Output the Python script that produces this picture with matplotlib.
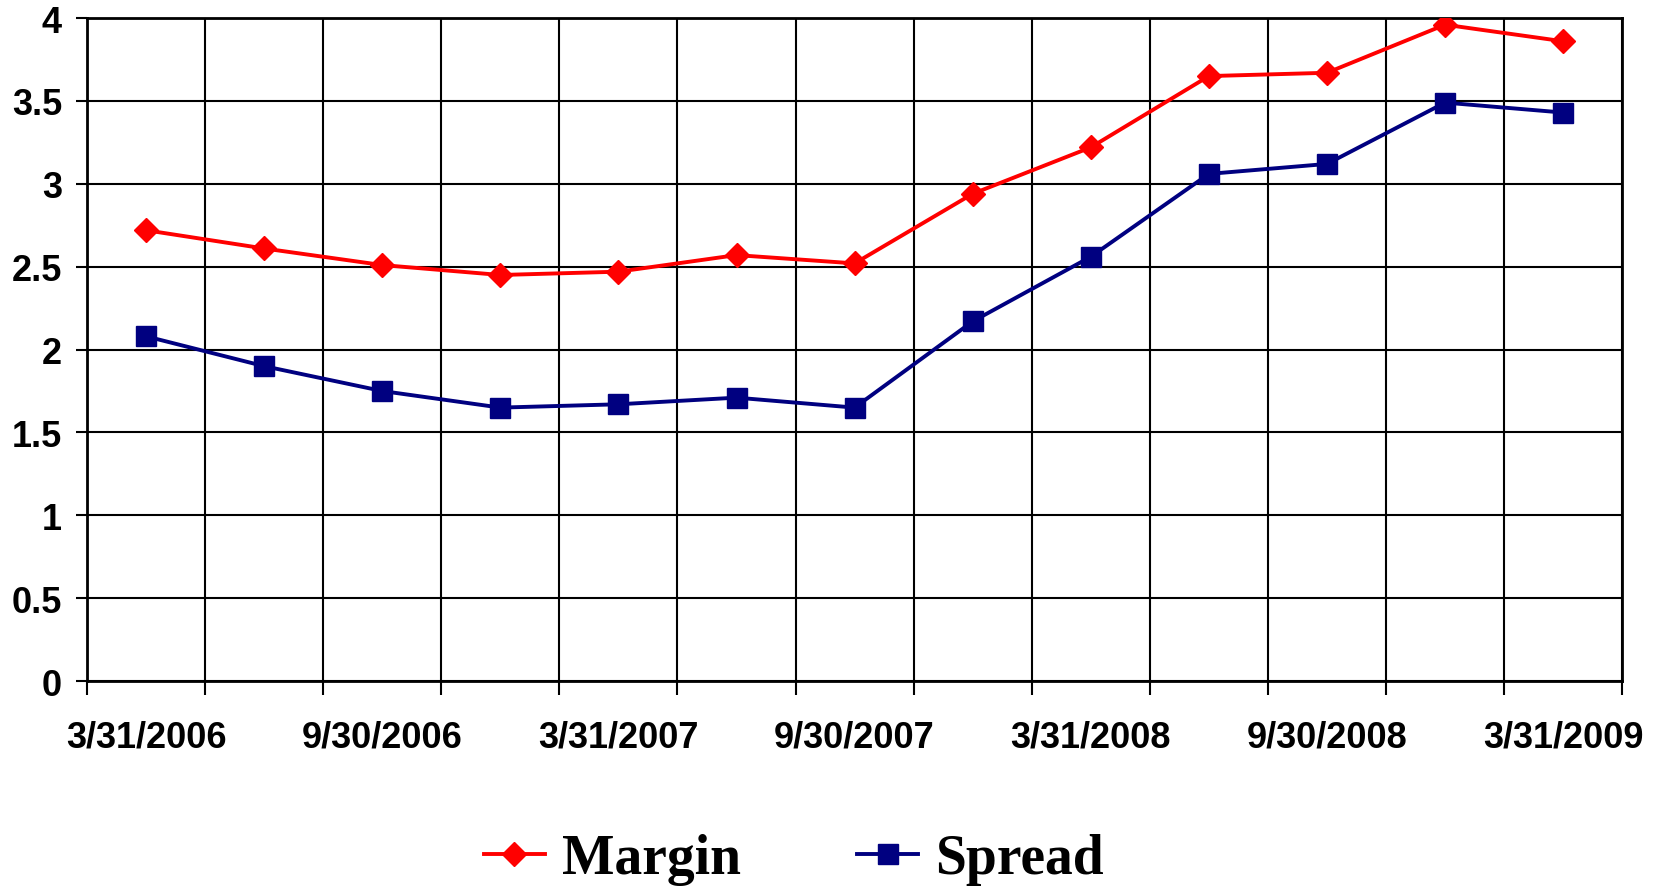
import matplotlib

matplotlib.use("Agg")
import matplotlib.pyplot as plt
import numpy as np

# quarter-end dates, one category each
QUARTERS = [
    "3/31/2006", "6/30/2006", "9/30/2006", "12/31/2006",
    "3/31/2007", "6/30/2007", "9/30/2007", "12/31/2007",
    "3/31/2008", "6/30/2008", "9/30/2008", "12/31/2008",
    "3/31/2009",
]
MARGIN = [2.72, 2.61, 2.51, 2.45, 2.47, 2.57, 2.52, 2.94, 3.22, 3.65, 3.67, 3.96, 3.86]
SPREAD = [2.08, 1.90, 1.75, 1.65, 1.67, 1.71, 1.65, 2.17, 2.56, 3.06, 3.12, 3.49, 3.43]
Y_TICKS = [0, 0.5, 1, 1.5, 2, 2.5, 3, 3.5, 4]
Y_TICK_LABELS = ["0", "0.5", "1", "1.5", "2", "2.5", "3", "3.5", "4"]

SANS = ["Liberation Sans", "DejaVu Sans"]
SERIF = ["Liberation Serif", "DejaVu Serif"]

fig = plt.figure(figsize=(16.57, 8.87), dpi=100)
ax = fig.add_axes([0.0525, 0.231, 0.9265, 0.7475])

x = np.arange(len(QUARTERS))
ax.plot(x, MARGIN, color="#ff0000", linewidth=2.8, marker="D", markersize=12.5,
        markeredgecolor="#ff0000", label="Margin", zorder=3)
ax.plot(x, SPREAD, color="#000080", linewidth=2.8, marker="s", markersize=14,
        markeredgecolor="#000080", label="Spread", zorder=3)

ax.set_xlim(-0.5, len(QUARTERS) - 0.5)
ax.set_ylim(0, 4)

# category boundaries carry the gridlines and tick marks
ax.set_xticks(np.arange(len(QUARTERS) + 1) - 0.5)
ax.set_xticklabels([])
ax.set_xticks(x[::2], minor=True)
ax.set_xticklabels(QUARTERS[::2], minor=True, fontsize=26, fontweight="bold",
                   family=SANS)
ax.tick_params(axis="x", which="major", length=10, width=1.5, direction="out")
ax.tick_params(axis="x", which="minor", length=0, pad=28)

ax.set_yticks(Y_TICKS)
ax.set_yticklabels(Y_TICK_LABELS, fontsize=26, fontweight="bold", family=SANS)
ax.tick_params(axis="y", length=8, width=1.5, direction="out", pad=10)

ax.grid(True, which="major", color="black", linewidth=1.5)
for spine in ax.spines.values():
    spine.set_linewidth(2)
    spine.set_color("black")

fig.legend(
    loc="center",
    bbox_to_anchor=(0.479, 0.03),
    ncol=2,
    frameon=False,
    handlelength=1.1,
    columnspacing=2.1,
    handletextpad=0.3,
    prop={"family": SERIF, "weight": "bold", "size": 40},
)

fig.savefig("out.png", dpi=100)
